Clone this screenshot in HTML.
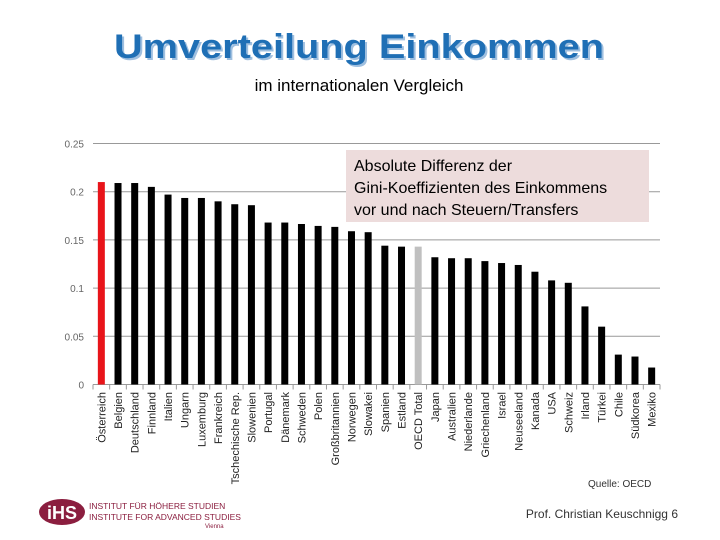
<!DOCTYPE html>
<html><head><meta charset="utf-8"><style>
html,body{margin:0;padding:0;background:#fff;width:720px;height:540px;overflow:hidden}
svg{display:block;font-family:"Liberation Sans",sans-serif}
</style></head><body>
<svg id="chart" width="720" height="540" viewBox="0 0 720 540">
<text x="361" y="60" text-anchor="middle" font-size="34" font-weight="bold" fill="#9fbfdf" textLength="490" lengthAdjust="spacingAndGlyphs">Umverteilung Einkommen</text>
<text x="359" y="58" text-anchor="middle" font-size="34" font-weight="bold" fill="#1f6fb5" textLength="490" lengthAdjust="spacingAndGlyphs">Umverteilung Einkommen</text>
<text x="359" y="91" text-anchor="middle" font-size="17" fill="#000">im internationalen Vergleich</text>
<g id="grid"></g><g id="bars"></g><g id="labels"></g>
<rect x="346" y="150" width="303" height="72" fill="#eddcdc"/>
<text x="354" y="171" font-size="16" fill="#000">Absolute Differenz der</text>
<text x="354" y="193" font-size="16" fill="#000">Gini-Koeffizienten des Einkommens</text>
<text x="354" y="215" font-size="16" fill="#000">vor und nach Steuern/Transfers</text>
<text x="588" y="487" font-size="10" fill="#333">Quelle: OECD</text>
<g>
<ellipse cx="62" cy="512" rx="23" ry="13" fill="#8b1e3f"/>
<text x="62" y="519" text-anchor="middle" font-size="18" font-weight="bold" fill="#fff">iHS</text>
<text x="89" y="509" font-size="8.5" fill="#8b1e3f">INSTITUT FÜR HÖHERE STUDIEN</text>
<text x="89" y="520" font-size="8.5" fill="#8b1e3f">INSTITUTE FOR ADVANCED STUDIES</text>
<text x="205" y="528" font-size="6" fill="#8b1e3f">Vienna</text>
</g>
<text x="678" y="518" text-anchor="end" font-size="12" fill="#333">Prof. Christian Keuschnigg 6</text>
</svg>
<script>
const categories=["Österreich","Belgien","Deutschland","Finnland","Italien","Ungarn","Luxemburg","Frankreich","Tschechische Rep.","Slowenien","Portugal","Dänemark","Schweden","Polen","Großbritannien","Norwegen","Slowakei","Spanien","Estland","OECD Total","Japan","Australien","Niederlande","Griechenland","Israel","Neuseeland","Kanada","USA","Schweiz","Irland","Türkei","Chile","Südkorea","Mexiko"];
const values=[0.210,0.209,0.209,0.205,0.197,0.1935,0.1935,0.190,0.187,0.186,0.168,0.168,0.1665,0.1645,0.1635,0.159,0.158,0.144,0.143,0.143,0.132,0.131,0.131,0.128,0.126,0.124,0.117,0.108,0.1055,0.081,0.060,0.031,0.029,0.0176];
const yTicks=[0,0.05,0.1,0.15,0.2,0.25];
const yTickLabels=["0","0.05","0.1","0.15","0.2","0.25"];
const NS="http://www.w3.org/2000/svg";
const left=93,right=660,y0=384.5,yTop=143.5,yMax=0.25;
const y=v=>y0-(v/yMax)*(y0-yTop);
const step=(right-left)/categories.length;
const x=i=>left+step*(i+0.5);
function mk(tag,attrs,parent){const e=document.createElementNS(NS,tag);for(const k in attrs)e.setAttribute(k,attrs[k]);document.getElementById(parent).appendChild(e);return e;}
yTicks.forEach((t,i)=>{
  const l=mk('line',{x1:left,x2:right,y1:y(t),y2:y(t),stroke:'#999','stroke-width':1},'grid');
  
  
  const tx=mk('text',{x:84,y:y(t)+4,'text-anchor':'end','font-size':10,fill:'#666'},'grid');
  tx.textContent=yTickLabels[i];
  
  
});
for(let i=0;i<=categories.length;i++){
  const tk=mk('line',{x1:left+step*i,x2:left+step*i,y1:y0,y2:y0+5,stroke:'#999'},'grid');
  
  
}
categories.forEach((c,i)=>{
  const col=i===0?'#e8141a':(c==='OECD Total'?'#c0c0c0':'#000');
  const b=mk('rect',{x:x(i)-3.5,y:y(values[i]),width:7,height:y0-y(values[i]),fill:col},'bars');
  
  
  const t=mk('text',{x:0,y:0,'font-size':11,fill:'#222','text-anchor':'end',transform:`translate(${x(i)+4},392) rotate(-90)`},'labels');
  t.textContent=c;
  
  
});
</script>
</body></html>
